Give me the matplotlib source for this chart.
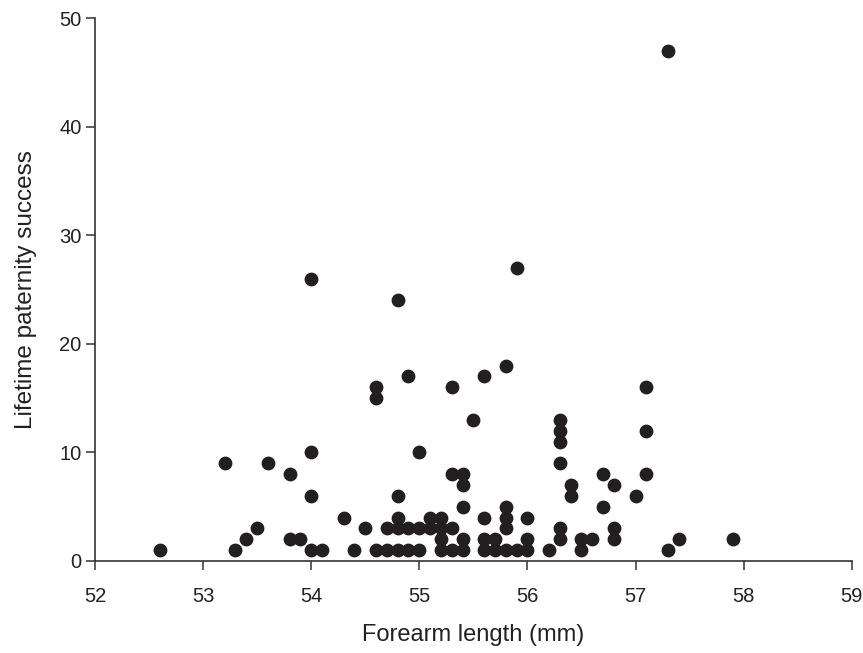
import matplotlib.pyplot as plt

# forearm length (mm) and lifetime paternity success
forearm = [
    52.6, 53.2, 53.3, 53.4, 53.5, 53.6, 53.8, 53.8, 53.9,
    54.0, 54.0, 54.0, 54.0, 54.1, 54.3, 54.4, 54.5,
    54.6, 54.6, 54.6, 54.7, 54.7,
    54.8, 54.8, 54.8, 54.8, 54.8, 54.9, 54.9, 54.9,
    55.0, 55.0, 55.0, 55.1, 55.1, 55.2, 55.2, 55.2, 55.2,
    55.3, 55.3, 55.3, 55.3, 55.4, 55.4, 55.4, 55.4, 55.4,
    55.5, 55.6, 55.6, 55.6, 55.6, 55.7, 55.7,
    55.8, 55.8, 55.8, 55.8, 55.8, 55.9, 55.9,
    56.0, 56.0, 56.0, 56.2,
    56.3, 56.3, 56.3, 56.3, 56.3, 56.3, 56.4, 56.4, 56.5, 56.5, 56.6,
    56.7, 56.7, 56.8, 56.8, 56.8, 57.0, 57.1, 57.1, 57.1,
    57.3, 57.3, 57.4, 57.9,
]
paternity = [
    1, 9, 1, 2, 3, 9, 8, 2, 2,
    26, 10, 6, 1, 1, 4, 1, 3,
    16, 15, 1, 3, 1,
    24, 6, 4, 3, 1, 17, 3, 1,
    10, 3, 1, 4, 3, 4, 3, 2, 1,
    16, 8, 3, 1, 8, 7, 5, 2, 1,
    13, 17, 4, 2, 1, 2, 1,
    18, 5, 4, 3, 1, 27, 1,
    4, 2, 1, 1,
    13, 12, 11, 9, 3, 2, 7, 6, 2, 1, 2,
    8, 5, 7, 3, 2, 6, 16, 12, 8,
    47, 1, 2, 2,
]
x_ticks = [52, 53, 54, 55, 56, 57, 58, 59]
y_ticks = [0, 10, 20, 30, 40, 50]

plt.rcParams['font.family'] = ['Liberation Sans', 'DejaVu Sans']

fig = plt.figure(figsize=(8.63, 6.53), dpi=100)
ax = fig.add_axes([0.110, 0.141, 0.877, 0.831])
ax.scatter(forearm, paternity, s=80, color='#231f20', zorder=3, clip_on=False)

ax.set_xlim(52, 59)
ax.set_ylim(0, 50)
ax.set_xticks(x_ticks)
ax.set_yticks(y_ticks)
for side in ('top', 'right'):
    ax.spines[side].set_visible(False)
for side in ('left', 'bottom'):
    ax.spines[side].set_color('#333333')
    ax.spines[side].set_linewidth(1.2)
ax.tick_params(axis='both', direction='out', length=6.5, width=1.1,
               color='#333333', labelsize=14.5, labelcolor='#222222')
ax.tick_params(axis='x', pad=12)
ax.tick_params(axis='y', pad=3)

ax.set_xlabel('Forearm length (mm)', fontsize=17, color='#222222', labelpad=13)
ax.set_ylabel('Lifetime paternity success', fontsize=17.5, color='#222222', labelpad=16)

fig.savefig('out.png', dpi=100)
